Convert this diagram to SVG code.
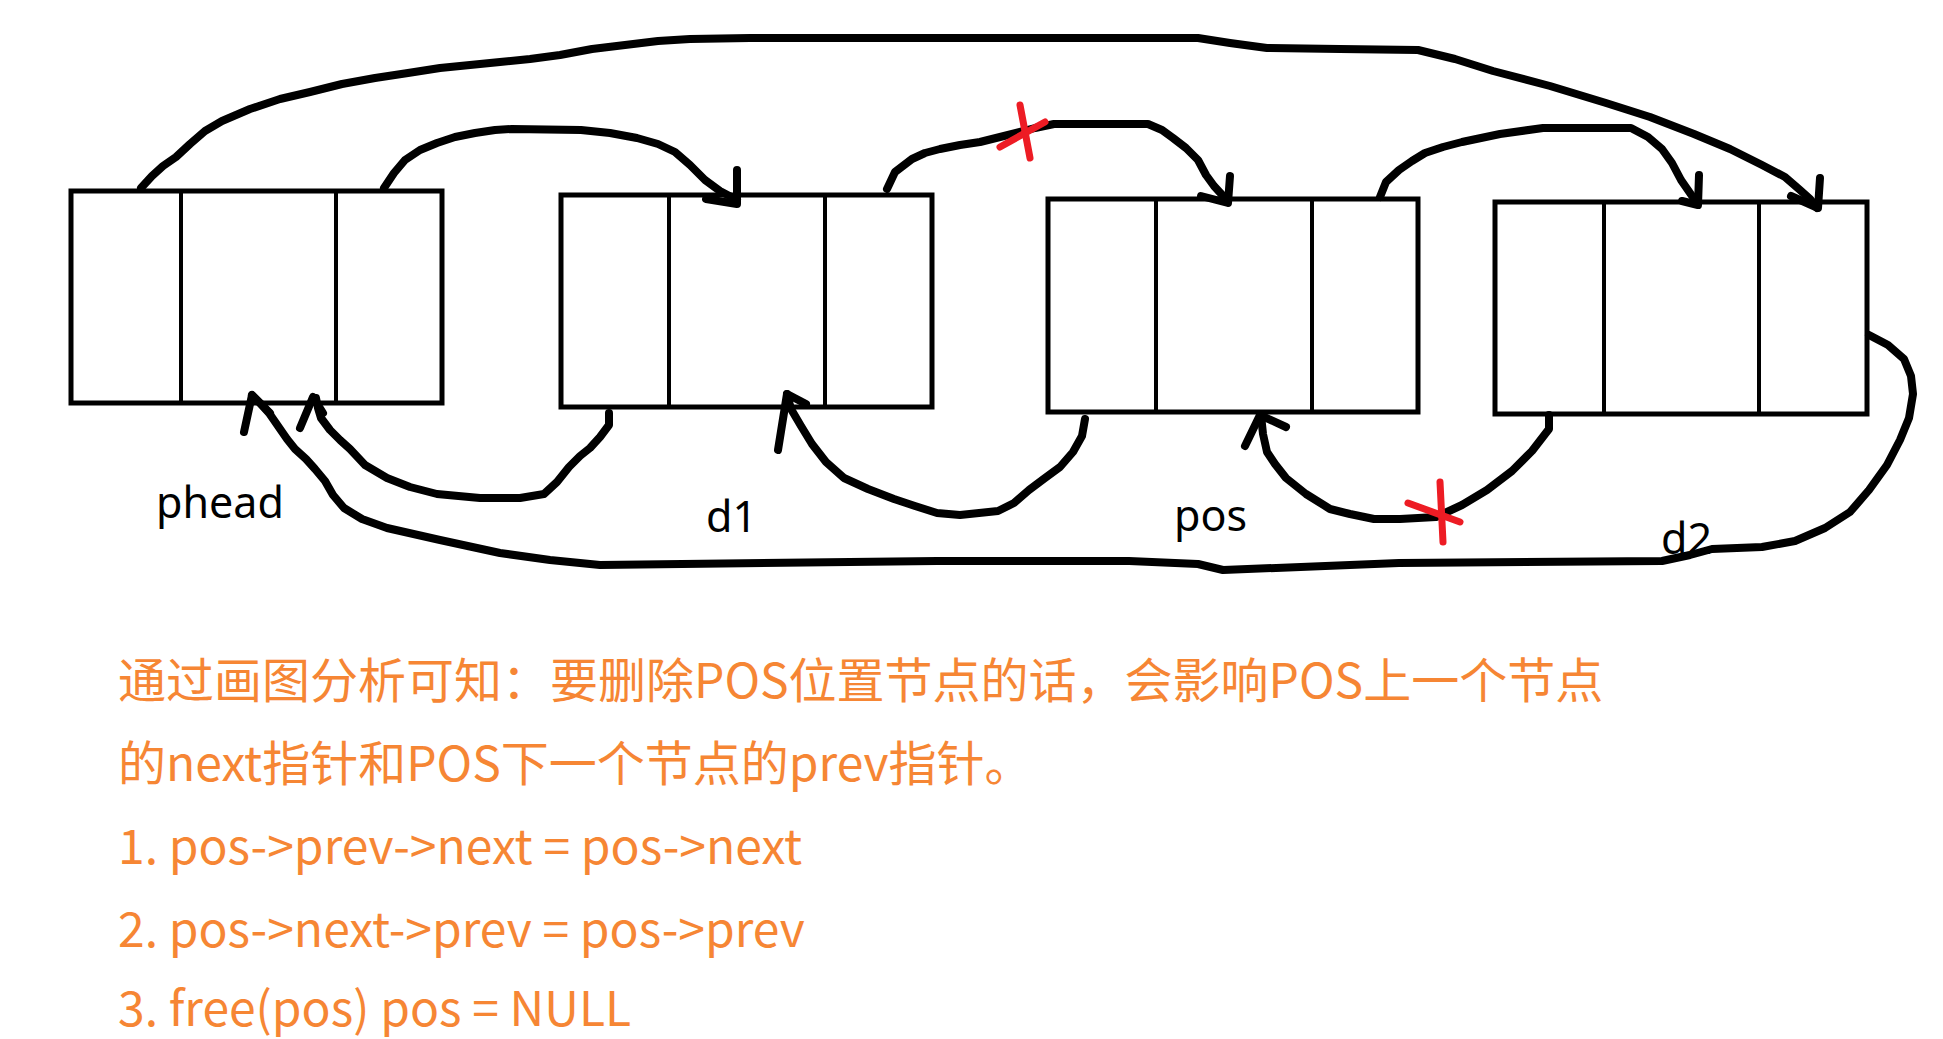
<svg xmlns="http://www.w3.org/2000/svg" width="1943" height="1039" viewBox="0 0 1943 1039">
<style>
.box{fill:none;stroke:#000;stroke-width:5}
.div{stroke:#000;stroke-width:4}
.ink{fill:none;stroke:#000;stroke-width:8;stroke-linecap:round;stroke-linejoin:round}
.cross{fill:none;stroke:#ED1C24;stroke-width:7;stroke-linecap:round}
.lbl{font-family:"Noto Sans","Noto Sans CJK SC",sans-serif;font-size:43px;fill:#000}
.note{font-family:"Noto Sans CJK SC","Noto Sans",sans-serif;font-size:48px;fill:#F68634}
</style>
<rect width="1943" height="1039" fill="#fff"/>
<g id="node-phead">
<rect class="box" x="71" y="191" width="371" height="212"/>
<line class="div" x1="181" y1="191" x2="181" y2="403"/>
<line class="div" x1="336" y1="189" x2="336" y2="405"/>
<text class="lbl" x="156" y="518">phead</text>
</g>
<g id="node-d1">
<rect class="box" x="561" y="195" width="371" height="212"/>
<line class="div" x1="669" y1="195" x2="669" y2="407"/>
<line class="div" x1="825" y1="193" x2="825" y2="409"/>
<text class="lbl" x="706" y="532">d1</text>
</g>
<g id="node-pos">
<rect class="box" x="1048" y="199" width="370" height="213"/>
<line class="div" x1="1156" y1="199" x2="1156" y2="412"/>
<line class="div" x1="1312" y1="197" x2="1312" y2="414"/>
<text class="lbl" x="1174" y="531">pos</text>
</g>
<g id="node-d2">
<rect class="box" x="1495" y="202" width="372" height="212"/>
<line class="div" x1="1604" y1="202" x2="1604" y2="414"/>
<line class="div" x1="1759" y1="200" x2="1759" y2="416"/>
<text class="lbl" x="1661" y="554">d2</text>
</g>
<g id="connectors">
<polyline class="ink" points="141,188 152,176 163,166 176,157 190,144 205,131 222,121 250,109 280,99 310,92 342,84 375,78 408,73 440,68 470,65 500,62 530,59 560,55 592,49 625,45 658,41 690,39 750,38 1198,38 1230,43 1267,48 1340,49 1418,50 1455,59 1493,71 1550,86 1606,103 1650,117 1694,134 1730,149 1762,165 1785,177 1800,190 1810,199 1817,208"/>
<polyline class="ink" points="1820,178 1818,208 1791,196"/>
<polyline class="ink" points="384,188 394,173 405,160 420,150 437,143 455,137 475,133 495,130 512,129 581,130 610,133 637,138 658,144 675,152 690,165 705,180 720,191 737,200"/>
<polyline class="ink" points="737,170 737,204 706,199"/>
<polyline class="ink" points="887,189 895,172 912,159 925,153 940,149 960,145 980,142 1000,137 1016,133 1035,128 1054,124 1148,124 1162,130 1173,138 1186,148 1198,160 1206,175 1214,186 1225,198"/>
<polyline class="ink" points="1230,176 1228,203 1201,196"/>
<polyline class="ink" points="1380,197 1386,182 1399,170 1412,161 1425,153 1443,147 1462,142 1500,134 1543,128 1631,128 1648,137 1662,149 1672,163 1681,180 1690,193 1697,203"/>
<polyline class="ink" points="1699,175 1698,205 1682,201"/>
<polyline class="ink" points="609,413 609,425 600,437 590,448 580,456 569,467 557,482 544,494 520,498 480,498 437,494 410,487 387,478 365,465 350,449 340,440 330,430 321,418 318,408 316,398"/>
<polyline class="ink" points="300,428 313,397 323,413"/>
<polyline class="ink" points="1085,419 1082,436 1073,452 1060,467 1045,478 1029,490 1014,503 998,511 960,515 937,513 915,506 894,499 868,489 844,478 826,462 812,444 801,426 791,409 787,394"/>
<polyline class="ink" points="778,450 787,394 806,404"/>
<polyline class="ink" points="1549,415 1549,429 1532,451 1512,471 1487,490 1462,505 1436,517 1400,519 1374,519 1350,514 1330,509 1306,494 1286,478 1275,464 1267,452 1263,434 1261,415"/>
<polyline class="ink" points="1245,446 1260,415 1286,427"/>
<polyline class="ink" points="1869,335 1888,345 1904,359 1911,376 1913,394 1909,418 1900,440 1887,465 1869,490 1850,512 1825,528 1795,541 1762,547 1712,549 1690,555 1662,561 1399,563 1223,570 1198,564 1129,561 980,561 937,561 600,565 550,560 500,553 440,540 387,528 362,519 344,508 333,495 325,481 315,469 306,459 295,449 287,439 278,426 269,413 260,403 252,395"/>
<polyline class="ink" points="244,432 252,395 270,413"/>
<line class="cross" x1="1020" y1="105" x2="1030" y2="158"/>
<line class="cross" x1="1000" y1="147" x2="1045" y2="122"/>
<line class="cross" x1="1440" y1="482" x2="1443" y2="542"/>
<line class="cross" x1="1408" y1="503" x2="1460" y2="522"/>
</g>
<g id="notes">
<text class="note" x="118" y="698">通过画图分析可知：要删除POS位置节点的话，会影响POS上一个节点</text>
<text class="note" x="118" y="781">的next指针和POS下一个节点的prev指针。</text>
<text class="note" x="118" y="864">1. pos-&gt;prev-&gt;next = pos-&gt;next</text>
<text class="note" x="118" y="947">2. pos-&gt;next-&gt;prev = pos-&gt;prev</text>
<text class="note" x="118" y="1026">3. free(pos) pos = NULL</text>
</g>
</svg>
